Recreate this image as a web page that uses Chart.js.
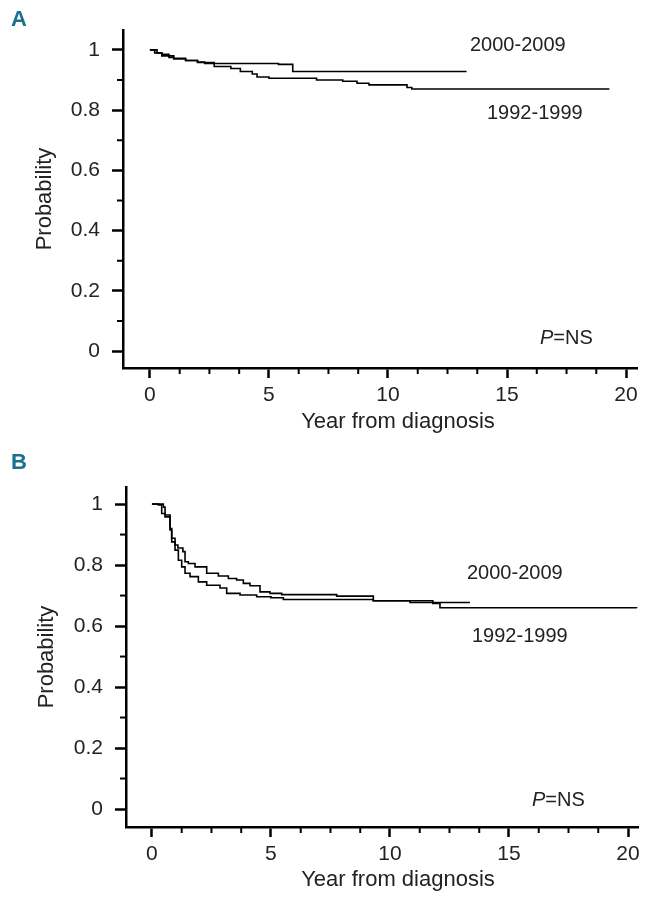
<!DOCTYPE html>
<html><head><meta charset="utf-8">
<script src="https://cdn.jsdelivr.net/npm/chart.js@4"></script>
<style>
html,body{margin:0;padding:0;background:#fff;}
#wrap{position:relative;width:645px;height:905px;overflow:hidden;}
.panel{position:absolute;left:0;width:645px;}
.lab{position:absolute;font-family:"Liberation Sans",Arial,sans-serif;font-weight:bold;font-size:22px;color:#17718f;}
</style></head><body>
<div id="wrap">
<div class="panel" style="top:0;height:450px"><canvas id="cA"></canvas></div>
<div class="panel" style="top:450px;height:455px"><canvas id="cB"></canvas></div>
<div class="lab" style="left:11px;top:6px">A</div>
<div class="lab" style="left:11px;top:449px">B</div>
</div>
<script>
// ---- data ----
const xTicks = [0, 5, 10, 15, 20];
const xMinorTicks = [1.25, 2.5, 3.75, 6.25, 7.5, 8.75, 11.25, 12.5, 13.75, 16.25, 17.5, 18.75];
const yTicks = [0, 0.2, 0.4, 0.6, 0.8, 1];
const yMinorTicks = [0.1, 0.3, 0.5, 0.7, 0.9];
const seriesNames = ['2000-2009', '1992-1999'];
const xTitle = 'Year from diagnosis';
const yTitle = 'Probability';
const pText = 'NS';

// Panel A
const aTime2000 = [0, 0.3, 0.5, 0.8, 1.0, 1.5, 2.0, 2.3, 5.4, 6.0, 13.3];
const aSurv2000 = [1, 0.99, 0.985, 0.975, 0.97, 0.965, 0.96, 0.955, 0.952, 0.928, 0.928];
const aTime1992 = [0, 0.2, 0.5, 1.0, 1.5, 2.0, 2.7, 3.4, 3.8, 4.3, 4.5, 5.0, 7.0, 8.1, 8.7, 9.2, 10.8, 11.0, 19.3];
const aSurv1992 = [1, 0.99, 0.98, 0.972, 0.965, 0.958, 0.945, 0.938, 0.928, 0.92, 0.91, 0.906, 0.9, 0.896, 0.889, 0.884, 0.875, 0.87, 0.87];

// Panel B
const bTime2000 = [0, 0.34, 0.48, 0.55, 0.76, 0.83, 0.97, 1.09, 1.3, 1.39, 1.53, 1.81, 2.3, 2.79, 3.21, 3.56, 3.84, 4.12, 4.54, 4.96, 5.45, 7.76, 9.3, 10.84, 13.36];
const bSurv2000 = [1, 1, 0.99, 0.964, 0.92, 0.888, 0.866, 0.856, 0.844, 0.811, 0.805, 0.794, 0.773, 0.764, 0.756, 0.751, 0.74, 0.732, 0.712, 0.707, 0.703, 0.698, 0.683, 0.677, 0.677];
const bTime1992 = [0, 0.27, 0.41, 0.55, 0.76, 0.83, 0.97, 1.11, 1.25, 1.39, 1.6, 1.95, 2.3, 2.86, 3.14, 3.7, 4.4, 5.0, 5.52, 9.3, 11.8, 12.1, 20.36];
const bSurv1992 = [1, 0.997, 0.969, 0.958, 0.915, 0.876, 0.849, 0.816, 0.794, 0.773, 0.762, 0.745, 0.734, 0.725, 0.707, 0.702, 0.696, 0.693, 0.687, 0.683, 0.674, 0.66, 0.658];

// ---- drawing ----
const FONT = '"Liberation Sans", Arial, sans-serif';
const TXT = '#222';

const extras = {
  id: 'extras',
  afterDraw(chart, args, o) {
    const {ctx, chartArea: ca} = chart;
    const x = chart.scales.x, y = chart.scales.y;
    ctx.save();
    ctx.strokeStyle = '#000';
    ctx.lineWidth = 2;
    xMinorTicks.forEach(v => {
      const px = x.getPixelForValue(v);
      ctx.beginPath(); ctx.moveTo(px, ca.bottom); ctx.lineTo(px, ca.bottom + o.minorX); ctx.stroke();
    });
    yMinorTicks.forEach(v => {
      const py = y.getPixelForValue(v);
      ctx.beginPath(); ctx.moveTo(ca.left, py); ctx.lineTo(ca.left - o.minorY, py); ctx.stroke();
    });
    ctx.fillStyle = TXT;
    ctx.textBaseline = 'middle';
    ctx.textAlign = 'center';
    ctx.font = '22px ' + FONT;
    ctx.fillText(xTitle, o.xTitle[0], o.xTitle[1]);
    ctx.textAlign = 'left';
    ctx.font = '20px ' + FONT;
    ctx.fillText(seriesNames[0], o.lab2000[0], o.lab2000[1]);
    ctx.fillText(seriesNames[1], o.lab1992[0], o.lab1992[1]);
    ctx.font = 'italic 20px ' + FONT;
    ctx.fillText('P', o.pLab[0], o.pLab[1]);
    const w = ctx.measureText('P').width;
    ctx.font = '20px ' + FONT;
    ctx.fillText('=' + pText, o.pLab[0] + w, o.pLab[1]);
    ctx.restore();
  }
};

function series(times, surv) {
  return times.map((t, i) => ({x: t, y: surv[i]}));
}

function makeChart(id, g, t2000, s2000, t1992, s1992) {
  return new Chart(document.getElementById(id), {
    type: 'line',
    data: {
      datasets: [
        {label: seriesNames[0], data: series(t2000, s2000), stepped: 'before', borderColor: '#000', borderWidth: 1.6, pointRadius: 0, fill: false},
        {label: seriesNames[1], data: series(t1992, s1992), stepped: 'before', borderColor: '#000', borderWidth: 1.6, pointRadius: 0, fill: false}
      ]
    },
    options: {
      responsive: true,
      maintainAspectRatio: false,
      animation: false,
      events: [],
      layout: {padding: {top: g.top, right: g.right, left: 0, bottom: 0}},
      plugins: {
        legend: {display: false},
        tooltip: {enabled: false},
        extras: {minorX: 6, minorY: 6, xTitle: g.xTitle, lab2000: g.lab2000, lab1992: g.lab1992, pLab: g.pLab}
      },
      scales: {
        x: {
          type: 'linear', min: g.xMin, max: g.xMax,
          afterBuildTicks: s => { s.ticks = xTicks.map(v => ({value: v})); },
          afterFit: s => { s.height = g.xH; },
          ticks: {font: {family: FONT, size: 21}, color: TXT, padding: 5, maxRotation: 0, autoSkip: false, callback: v => String(v)},
          grid: {drawOnChartArea: false, drawTicks: true, tickLength: 10, tickWidth: 2.5, tickColor: '#000'},
          border: {display: true, color: '#000', width: 2.5}
        },
        y: {
          type: 'linear', min: g.yMin, max: g.yMax,
          afterBuildTicks: s => { s.ticks = yTicks.map(v => ({value: v})); },
          afterFit: s => { s.width = g.yW; },
          ticks: {font: {family: FONT, size: 21}, color: TXT, padding: 12, autoSkip: false, callback: v => String(+(+v).toFixed(1))},
          grid: {drawOnChartArea: false, drawTicks: true, tickLength: 11, tickWidth: 2.5, tickColor: '#000'},
          border: {display: true, color: '#000', width: 2.5},
          title: {display: true, text: yTitle, color: TXT, font: {family: FONT, size: 22}, padding: {top: g.yTitlePad, bottom: 0}}
        }
      }
    },
    plugins: [extras]
  });
}

makeChart('cA', {
  top: 30, right: 8, yW: 123, xH: 82,
  xMin: -1.13, xMax: 20.46, yMin: -0.056, yMax: 1.066,
  yTitlePad: 32, xTitle: [398, 422],
  lab2000: [470, 45], lab1992: [487, 113], pLab: [540, 338]
}, aTime2000, aSurv2000, aTime1992, aSurv1992);

makeChart('cB', {
  top: 37, right: 7, yW: 126, xH: 78,
  xMin: -1.09, xMax: 20.42, yMin: -0.059, yMax: 1.056,
  yTitlePad: 34, xTitle: [398, 430],
  lab2000: [467, 123], lab1992: [472, 186], pLab: [532, 350]
}, bTime2000, bSurv2000, bTime1992, bSurv1992);
</script>
</body></html>
